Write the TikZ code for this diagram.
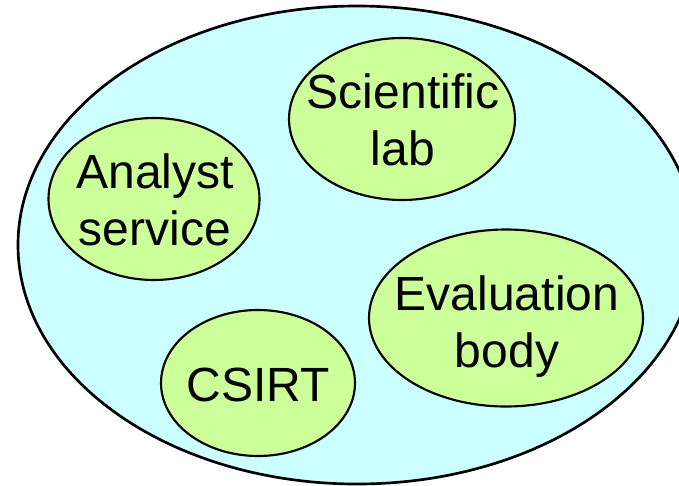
\documentclass[tikz,border=0pt]{standalone}
\usepackage{fontspec}
\setmainfont{Liberation Sans}
\usetikzlibrary{shapes.geometric}
\definecolor{outerfill}{HTML}{CCFFFF}
\definecolor{blobfill}{HTML}{CCFF99}
\begin{document}
\begin{tikzpicture}[x=0.75pt,y=-0.75pt,
  outerblob/.style={ellipse, draw=black, line width=2pt, fill=outerfill, inner sep=0pt},
  blob/.style={ellipse, draw=black, line width=1.6pt, fill=blobfill, inner sep=0pt},
  lbl/.style={font=\fontsize{36}{42.75}\selectfont, inner sep=0pt, anchor=base}]
\useasboundingbox (0,0) rectangle (679,486);
\clip (0,0) rectangle (679,486);
\node[outerblob, minimum width=508.5pt, minimum height=358.5pt] (outer) at (357,245) {};
\node[blob, minimum width=169.5pt, minimum height=121.5pt] (sci) at (402,119) {};
\node[blob, minimum width=158.25pt, minimum height=121.5pt] (ana) at (154,199) {};
\node[blob, minimum width=205.5pt, minimum height=132.75pt] (eva) at (506,318) {};
\node[blob, minimum width=145.5pt, minimum height=109.5pt] (csi) at (258,383) {};
\node[lbl] (scit) at ([shift={(1,-11)}]sci.center) {\begin{tabular}[t]{@{}c@{}}Scientific\\lab\end{tabular}};
\node[lbl] (anat) at ([shift={(1,-11)}]ana.center) {\begin{tabular}[t]{@{}c@{}}Analyst\\service\end{tabular}};
\node[lbl] (evat) at ([shift={(1,-8)}]eva.center) {\begin{tabular}[t]{@{}c@{}}Evaluation\\body\end{tabular}};
\node[lbl] (csit) at ([shift={(0,18)}]csi.center) {CSIRT};
\end{tikzpicture}
\end{document}
